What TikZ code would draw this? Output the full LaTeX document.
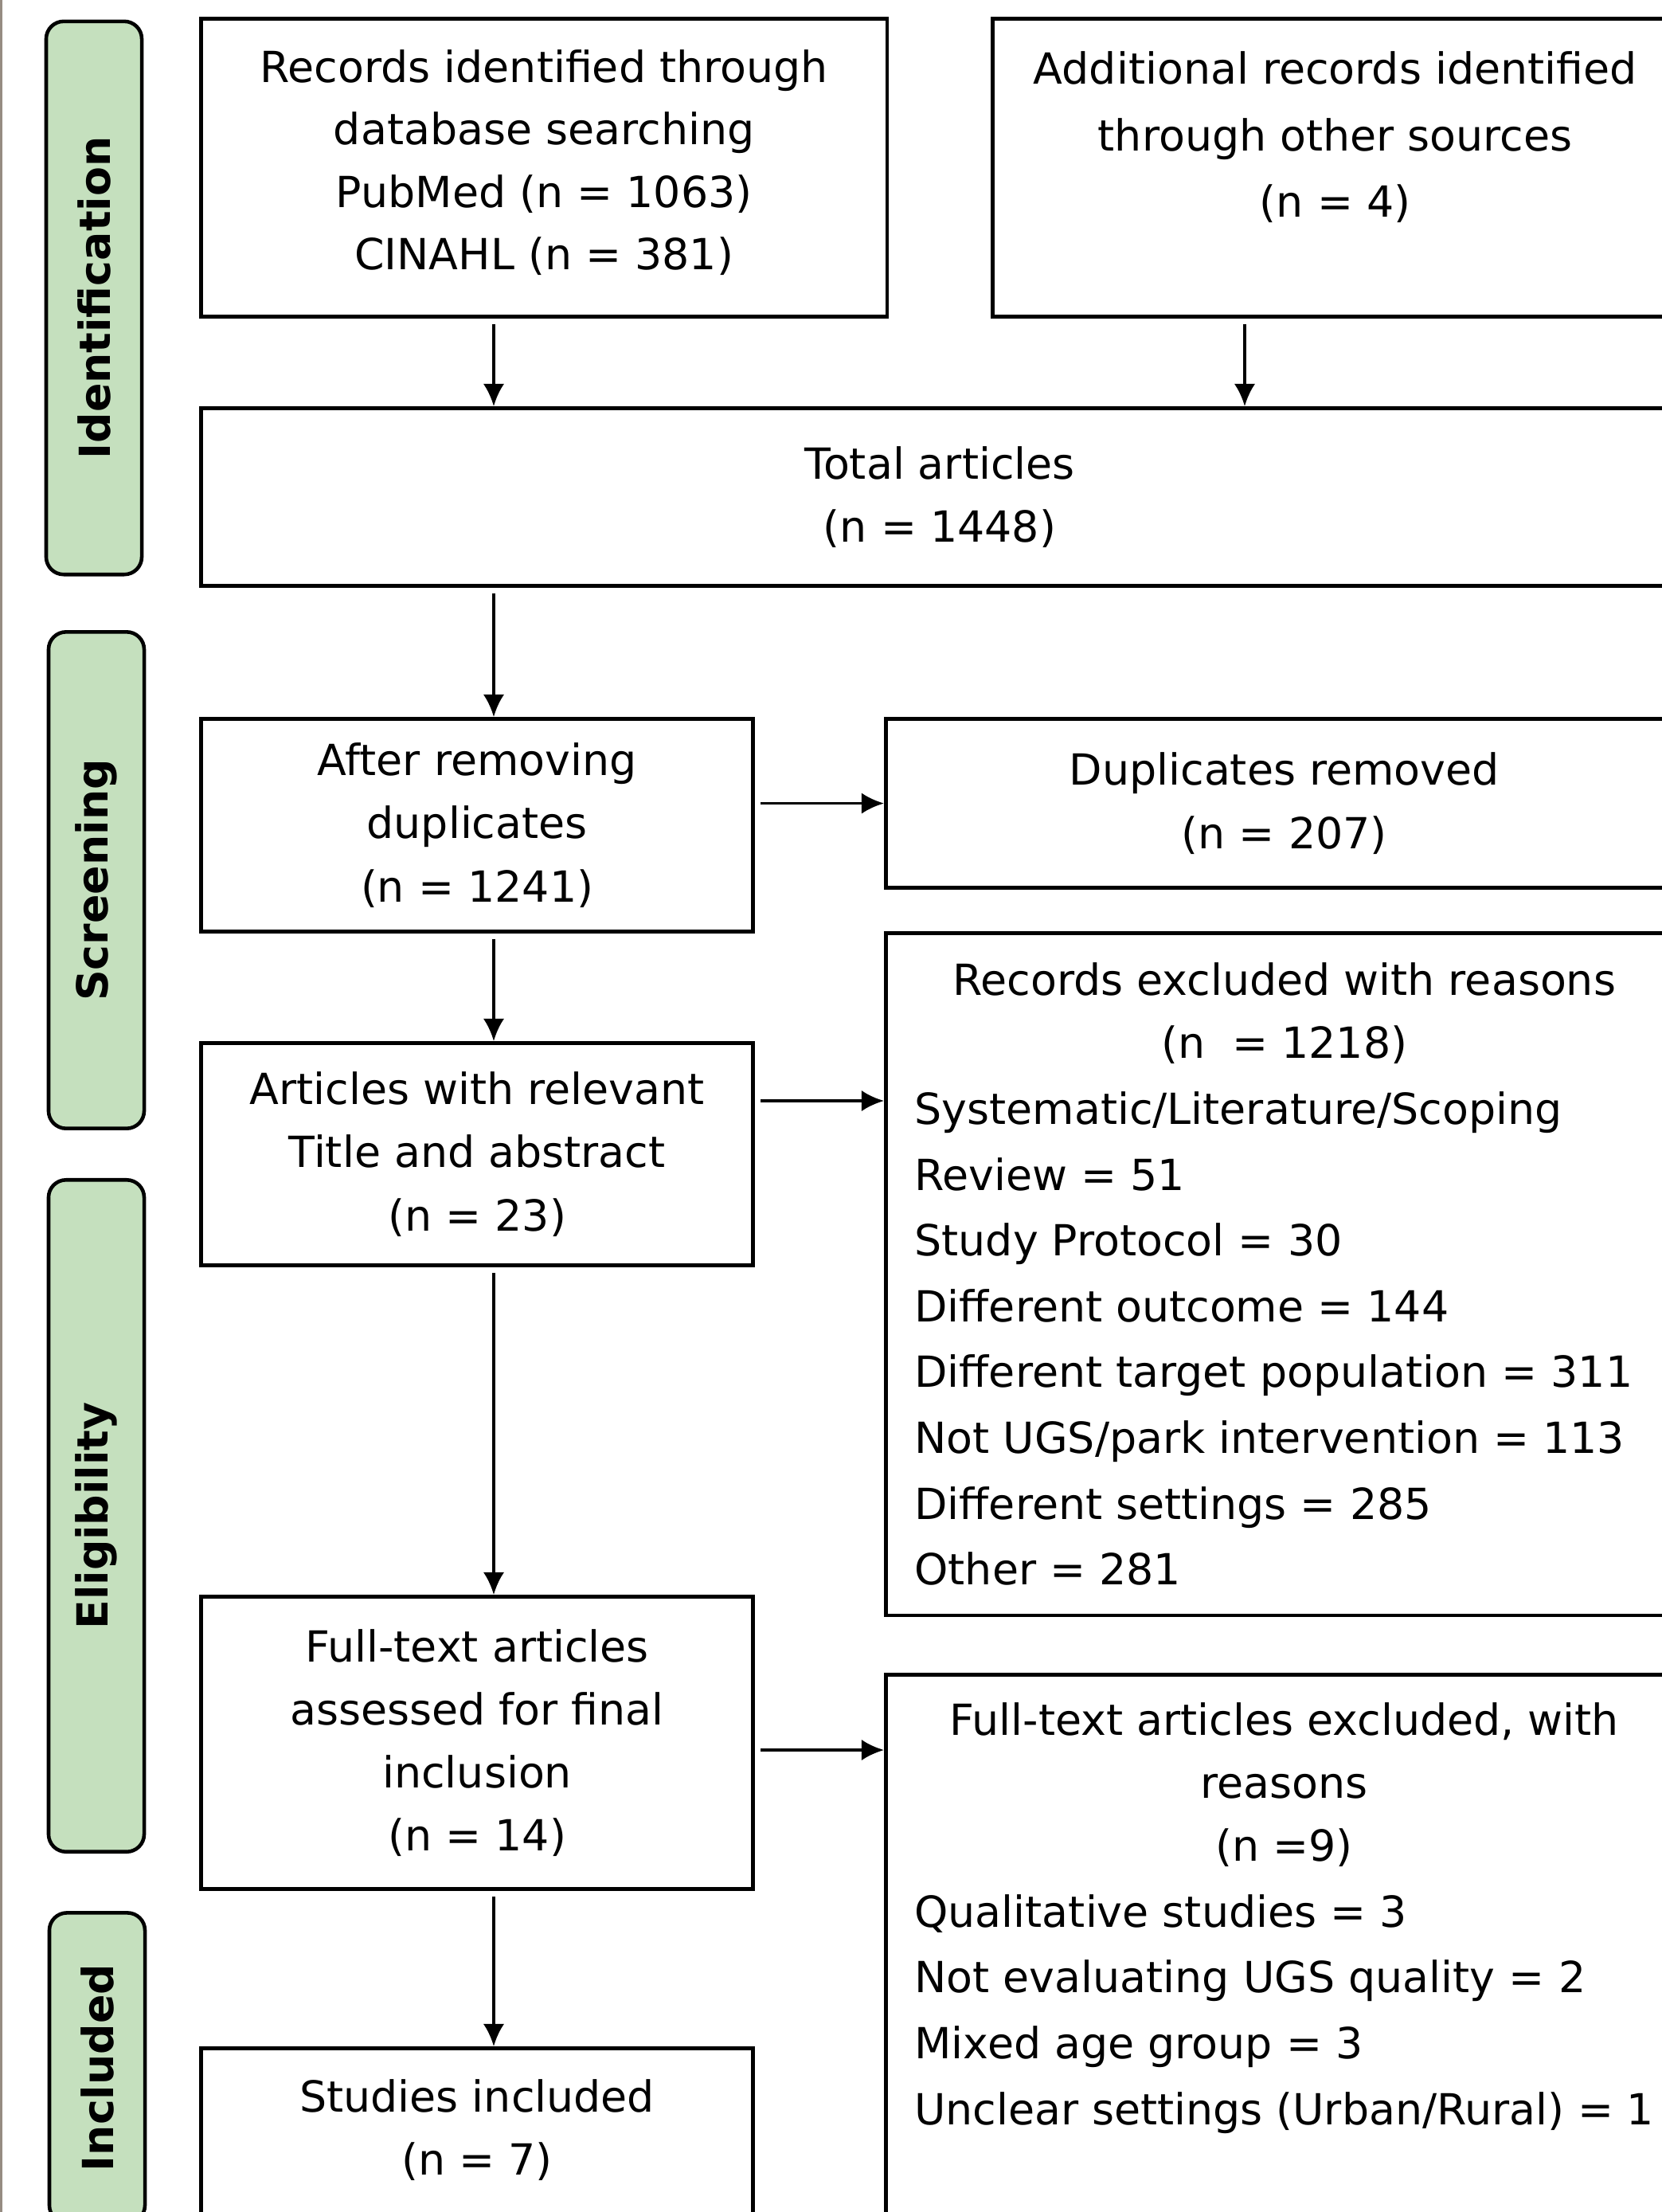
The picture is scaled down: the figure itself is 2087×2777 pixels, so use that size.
\documentclass[tikz,border=0pt]{standalone}
\usepackage{fontspec}
\setmainfont{DejaVu Sans}
\usetikzlibrary{arrows.meta}

\definecolor{stagegreen}{RGB}{197,224,190}
\definecolor{edgegray}{RGB}{150,140,130}

\tikzset{
  stage/.style={draw, line width=1.3pt, fill=stagegreen, rounded corners=0.22cm,
    rotate=90, minimum height=1.2cm, inner sep=0pt,
    font=\fontsize{15.3}{18}\selectfont\bfseries},
  box/.style={draw, line width=1.4pt, anchor=north west, align=center, inner sep=0pt,
    font=\fontsize{15.3}{22.5}\selectfont},
  flow/.style={->, line width=1.1pt, shorten <=2pt},
}

\begin{document}
\begin{tikzpicture}[x=0.01cm, y=-0.01cm, >={Latex[length=8pt,width=7.5pt]}]
  \path[use as bounding box, fill=white] (0,0) rectangle (2087,2777);
  \clip (0,0) rectangle (2087,2777);
  \draw[edgegray, line width=1pt] (1,0) -- (1,2777);

  % stages
  \node[stage, minimum width=6.94cm] (ident) at (118,374) {Identification};
  \node[stage, minimum width=6.23cm] (screen) at (121,1105) {Screening};
  \node[stage, minimum width=8.43cm] (elig) at (121,1903) {Eligibility};
  \node[stage, minimum width=3.89cm] (incl) at (122,2596) {Included};

  % boxes
  \node[box] (db) at (250,21)
    {\parbox[c][3.74cm][t]{8.61cm}{\vspace*{0.39cm}\centering\fontsize{15.3}{22.3}\selectfont
      Records identified through\\database searching\\PubMed (n = 1063)\\CINAHL (n = 381)}};
  \node[box] (add) at (1244,21)
    {\parbox[c][3.74cm][t]{8.6cm}{\vspace*{0.41cm}\centering\fontsize{15.3}{23.8}\selectfont
      Additional records identified\\through other sources\\(n = 4)}};
  \node[box, minimum width=18.54cm, minimum height=2.23cm] (total) at (250,510)
    {Total articles\\(n = 1448)};
  \node[box, minimum width=6.93cm, minimum height=2.67cm] (dedup) at (250,900)
    {After removing\\duplicates\\(n = 1241)};
  \node[box, minimum width=10cm, minimum height=2.12cm] (dup) at (1110,900)
    {Duplicates removed\\(n = 207)};
  \node[box, minimum width=6.93cm, minimum height=2.79cm] (screened) at (250,1307)
    {Articles with relevant\\Title and abstract\\(n = 23)};
  \node[box, inner xsep=0.36cm] (recexcl) at (1110,1169)
    {\parbox[c][8.56cm][c]{9.28cm}{{\centering Records excluded with reasons\\(n\ \ = 1218)\par}
      \fontsize{15.3}{23.5}\selectfont
      Systematic/Literature/Scoping\\Review = 51\\Study Protocol = 30\\Different outcome = 144\\
      Different target population = 311\\Not UGS/park intervention = 113\\
      Different settings = 285\\Other = 281}};
  \node[box, minimum width=6.93cm, minimum height=3.67cm] (fulltext) at (250,2002)
    {Full-text articles\\assessed for final\\inclusion\\(n = 14)};
  \node[box, inner xsep=0.36cm] (ftexcl) at (1110,2100)
    {\parbox[c][7cm][t]{9.28cm}{\vspace*{0.35cm}{\centering Full-text articles excluded, with\\reasons\\(n =9)\par}
      \fontsize{15.3}{23.5}\selectfont
      Qualitative studies = 3\\Not evaluating UGS quality = 2\\Mixed age group = 3\\
      Unclear settings (Urban/Rural) = 1}};
  \node[box] (studies) at (250,2569)
    {\parbox[c][2.4cm][t]{6.93cm}{\vspace*{0.39cm}\centering Studies included\\(n = 7)}};

  % connectors
  \coordinate (spine) at (620,0);
  \coordinate (addx) at (1563,0);
  \coordinate (row2) at (0,1382);
  \coordinate (row3) at (0,2197);
  \draw[flow] (db.south -| spine) -- (total.north -| spine);
  \draw[flow] (add.south -| addx) -- (total.north -| addx);
  \draw[flow] (total.south -| spine) -- (dedup.north -| spine);
  \draw[flow] (dedup.east |- dup.west) -- (dup.west);
  \draw[flow] (dedup.south -| spine) -- (screened.north -| spine);
  \draw[flow] (screened.east |- row2) -- (recexcl.west |- row2);
  \draw[flow] (screened.south -| spine) -- (fulltext.north -| spine);
  \draw[flow] (fulltext.east |- row3) -- (ftexcl.west |- row3);
  \draw[flow] (fulltext.south -| spine) -- (studies.north -| spine);
\end{tikzpicture}
\end{document}
